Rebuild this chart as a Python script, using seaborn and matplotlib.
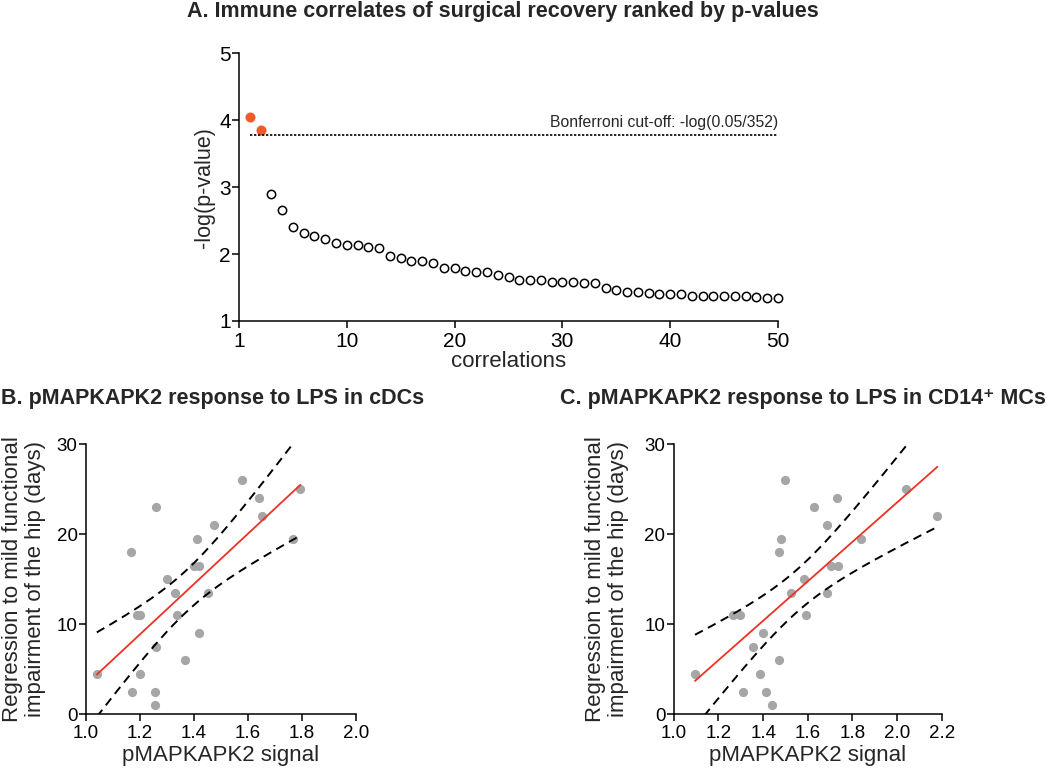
import numpy as np
import pandas as pd
import matplotlib
matplotlib.use("Agg")
import matplotlib.pyplot as plt
import seaborn as sns

## Panel A: top 50 correlations ranked by p-value
rank = list(range(1, 51))
neglog_p = [4.05, 3.86, 2.90, 2.66, 2.40, 2.31, 2.27, 2.22, 2.16, 2.14,
            2.13, 2.10, 2.09, 1.97, 1.94, 1.90, 1.89, 1.86, 1.79, 1.79,
            1.74, 1.73, 1.73, 1.68, 1.66, 1.61, 1.62, 1.61, 1.59, 1.59,
            1.58, 1.57, 1.57, 1.49, 1.46, 1.44, 1.43, 1.42, 1.41, 1.40,
            1.40, 1.38, 1.38, 1.38, 1.37, 1.37, 1.37, 1.36, 1.35, 1.34]
bonferroni = 3.78
a_tick_pos = [0, 10, 20, 30, 40, 50]
a_tick_lab = ['1', '10', '20', '30', '40', '50']

## Panel B: cDCs
b_signal = [1.04, 1.167, 1.17, 1.19, 1.20, 1.20, 1.26, 1.26, 1.257, 1.255,
            1.30, 1.33, 1.337, 1.368, 1.40, 1.42, 1.41, 1.42, 1.45, 1.473,
            1.578, 1.64, 1.653, 1.767, 1.794]
b_days = [4.5, 18, 2.5, 11, 11, 4.5, 23, 7.5, 2.5, 1,
          15, 13.5, 11, 6, 16.5, 16.5, 19.5, 9, 13.5, 21,
          26, 24, 22, 19.5, 25]

## Panel C: CD14+ MCs
c_signal = [1.095, 1.267, 1.297, 1.31, 1.355, 1.386, 1.40, 1.414, 1.44, 1.472,
            1.471, 1.478, 1.50, 1.525, 1.584, 1.593, 1.628, 1.685, 1.688, 1.702,
            1.735, 1.732, 1.836, 2.04, 2.18]
c_days = [4.5, 11, 11, 2.5, 7.5, 4.5, 9, 2.5, 1, 6,
          18, 19.5, 26, 13.5, 15, 11, 23, 21, 13.5, 16.5,
          16.5, 24, 19.5, 25, 22]

ORANGE = '#F15A29'
GREY = '#A6A6A6'
RED = '#EE3124'

sns.set_style('ticks')
plt.rcParams['font.family'] = ['Liberation Sans', 'DejaVu Sans']
plt.rcParams['axes.linewidth'] = 1.1
plt.rcParams['xtick.major.width'] = 1.1
plt.rcParams['ytick.major.width'] = 1.1
plt.rcParams['xtick.major.size'] = 5
plt.rcParams['ytick.major.size'] = 5
plt.rcParams['xtick.color'] = 'black'
plt.rcParams['ytick.color'] = 'black'
plt.rcParams['axes.edgecolor'] = 'black'

fig = plt.figure(figsize=(10.5, 7.69), dpi=100)
W, H = 1050, 769

## ---- A ----
axA = fig.add_axes([239 / W, 1 - 321 / H, 539 / W, 267.7 / H])
dfA = pd.DataFrame({'rank': rank, 'nlp': neglog_p})
dfA['sig'] = dfA['nlp'] > bonferroni
sns.scatterplot(data=dfA[~dfA['sig']], x='rank', y='nlp', ax=axA, s=36,
                facecolor='white', edgecolor='black', linewidth=1.1, clip_on=False)
sns.scatterplot(data=dfA[dfA['sig']], x='rank', y='nlp', ax=axA, s=52,
                color=ORANGE, edgecolor=ORANGE, linewidth=0, clip_on=False)
axA.plot([min(rank), max(rank)], [bonferroni, bonferroni], color='black',
         lw=1.2, linestyle=(0, (1.4, 1.0)))
axA.text(50, bonferroni + 0.08, 'Bonferroni cut-off: -log(0.05/352)',
         ha='right', va='bottom', fontsize=11.3)
axA.set_xlim(0, 50)
axA.set_ylim(1, 5)
axA.set_xticks(a_tick_pos)
axA.set_xticklabels(a_tick_lab)
axA.set_yticks([1, 2, 3, 4, 5])
axA.tick_params(axis='both', labelsize=15)
axA.tick_params(axis='y', pad=1)
axA.tick_params(axis='x', pad=3)
axA.set_xlabel('correlations', fontsize=16, labelpad=0)
axA.set_ylabel('-log(p-value)', fontsize=15.5, labelpad=3)
sns.despine(ax=axA)
fig.text(503 / W, 1 - 16.5 / H,
         'A. Immune correlates of surgical recovery ranked by p-values',
         ha='center', va='baseline', fontsize=15.5, fontweight='bold')


def reg_panel(ax, x, y, xmax, xticks, ypad):
    df = pd.DataFrame({'x': x, 'y': y})
    sns.scatterplot(data=df, x='x', y='y', ax=ax, s=44, color=GREY,
                    edgecolor=GREY, linewidth=0, clip_on=False, zorder=2)
    sns.regplot(data=df, x='x', y='y', ax=ax, scatter=False, ci=None,
                color=RED, line_kws={'lw': 1.3, 'zorder': 3})
    # 95% confidence band of the fitted line
    xa = np.asarray(x, float)
    ya = np.asarray(y, float)
    n = len(xa)
    slope, icpt = np.polyfit(xa, ya, 1)
    resid = ya - (slope * xa + icpt)
    s_err = np.sqrt(np.sum(resid ** 2) / (n - 2))
    t_crit = 2.069  # t(0.975, df=23)
    xx = np.linspace(xa.min(), xa.max(), 200)
    half = t_crit * s_err * np.sqrt(1 / n + (xx - xa.mean()) ** 2 / np.sum((xa - xa.mean()) ** 2))
    yy = slope * xx + icpt
    for band in (yy + half, yy - half):
        ax.plot(xx, band, color='black', lw=1.4, dashes=(4.5, 3), zorder=3)
    ax.set_xlim(1.0, xmax)
    ax.set_ylim(0, 30)
    ax.set_xticks(xticks)
    ax.set_xticklabels(['%.1f' % t for t in xticks])
    ax.set_yticks([0, 10, 20, 30])
    ax.tick_params(axis='both', labelsize=13.5)
    ax.tick_params(axis='y', pad=1)
    ax.tick_params(axis='x', pad=3)
    ax.set_xlabel('pMAPKAPK2 signal', fontsize=16, labelpad=2)
    ax.set_ylabel('Regression to mild functional\nimpairment of the hip (days)',
                  fontsize=16, labelpad=ypad, linespacing=1.15)
    sns.despine(ax=ax)


## ---- B ----
axB = fig.add_axes([86 / W, 1 - 714.3 / H, 270 / W, 270 / H])
reg_panel(axB, b_signal, b_days, 2.0, [1.0, 1.2, 1.4, 1.6, 1.8, 2.0], 7.5)
fig.text(1 / W, 1 - 404 / H, 'B. pMAPKAPK2 response to LPS in cDCs',
         ha='left', va='baseline', fontsize=15.5, fontweight='bold')

## ---- C ----
axC = fig.add_axes([673.8 / W, 1 - 714.3 / H, 268 / W, 270 / H])
reg_panel(axC, c_signal, c_days, 2.2, [1.0, 1.2, 1.4, 1.6, 1.8, 2.0, 2.2], 11)
fig.text(560 / W, 1 - 404 / H, 'C. pMAPKAPK2 response to LPS in CD14\u207a MCs',
         ha='left', va='baseline', fontsize=15.5, fontweight='bold')

fig.savefig('out.png', dpi=100)
